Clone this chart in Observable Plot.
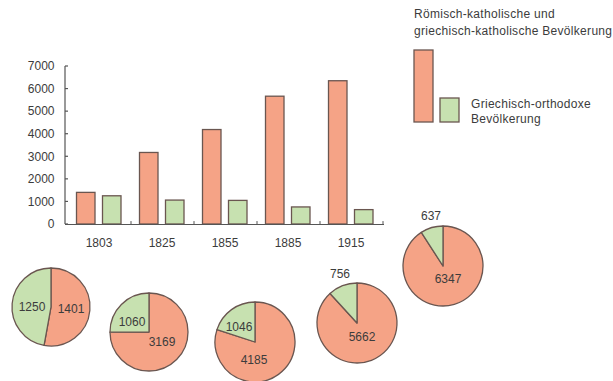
<!DOCTYPE html>
<html><head><meta charset="utf-8">
<script src="https://cdn.jsdelivr.net/npm/d3@7"></script>
<script src="https://cdn.jsdelivr.net/npm/@observablehq/plot@0.6"></script>
<style>
body{margin:0;background:#fff}
#chart{position:relative;width:613px;height:381px;font-family:"Liberation Sans",Arial,sans-serif}
</style>
</head><body><div id="chart"></div>
<script>
// ---- data ----
const years = ["1803", "1825", "1855", "1885", "1915"];
const catholic = [1401, 3169, 4185, 5662, 6347];
const orthodox = [1250, 1060, 1046, 756, 637];
const yTicks = [0, 1000, 2000, 3000, 4000, 5000, 6000, 7000];
const catholicLabel = ["Römisch-katholische und", "griechisch-katholische Bevölkerung"];
const orthodoxLabel = ["Griechisch-orthodoxe", "Bevölkerung"];

// ---- styles / layout ----
const C = {cath: "#f5a386", orth: "#c7e1b0", stroke: "#6a5650", text: "#3c3c3c", axis: "#555"};
const rows = years.map((year, i) => ({year, catholic: catholic[i], orthodox: orthodox[i]}));
const pieLayout = [
  {cx: 51,  cy: 307, r: 39, g: [-19, 0],   o: [20, 2]},
  {cx: 149, cy: 332, r: 39, g: [-17, -10], o: [13, 10]},
  {cx: 255, cy: 342, r: 40, g: [-16, -15], o: [-1, 18]},
  {cx: 357, cy: 323, r: 40, g: [-17, -49], o: [5, 14]},
  {cx: 443, cy: 266, r: 40, g: [-12, -50], o: [5, 13]}
];

function pies() {
  const g = d3.create("svg:g");
  const pie = d3.pie().sort(null).value(d => d);
  rows.forEach((row, i) => {
    const L = pieLayout[i];
    const arc = d3.arc().innerRadius(0).outerRadius(L.r);
    const arcs = pie([row.catholic, row.orthodox]);
    const gg = g.append("g").attr("transform", `translate(${L.cx},${L.cy})`);
    gg.selectAll("path").data(arcs).join("path")
      .attr("d", arc)
      .attr("fill", (d, j) => j ? C.orth : C.cath)
      .attr("stroke", C.stroke).attr("stroke-width", 1.3).attr("stroke-linejoin", "round");
    const lab = [[row.orthodox, L.g], [row.catholic, L.o]];
    lab.forEach(([v, p]) => {
      gg.append("text").attr("x", p[0]).attr("y", p[1]).attr("dy", "0.35em")
        .attr("text-anchor", "middle").attr("font-size", 12).attr("fill", C.text)
        .text(v);
    });
  });
  return g.node();
}

function yLine(index, scales, values, dims) {
  const g = d3.create("svg:g").attr("stroke", C.axis).attr("stroke-width", 1.2);
  const x0 = dims.marginLeft;
  g.append("line")
    .attr("x1", x0).attr("x2", x0)
    .attr("y1", dims.marginTop).attr("y2", dims.height - dims.marginBottom);
  g.selectAll("line.t").data(yTicks).join("line").attr("class", "t")
    .attr("x1", x0).attr("x2", x0 + 3)
    .attr("y1", d => scales.y(d)).attr("y2", d => scales.y(d));
  return g.node();
}

function legend() {
  const g = d3.create("svg:g").attr("font-size", 12).attr("letter-spacing", "0.3px").attr("fill", C.text).attr("text-anchor", "start");
  g.append("text").attr("x", 414).attr("y", 18).text(catholicLabel[0]);
  g.append("text").attr("x", 414).attr("y", 35).text(catholicLabel[1]);
  g.append("rect").attr("x", 414).attr("y", 50).attr("width", 19).attr("height", 72)
    .attr("fill", C.cath).attr("stroke", C.stroke).attr("stroke-width", 1.3);
  g.append("rect").attr("x", 440).attr("y", 98).attr("width", 19).attr("height", 24)
    .attr("fill", C.orth).attr("stroke", C.stroke).attr("stroke-width", 1.3);
  g.append("text").attr("x", 471).attr("y", 108).text(orthodoxLabel[0]);
  g.append("text").attr("x", 471).attr("y", 123).text(orthodoxLabel[1]);
  return g.node();
}

const chart = Plot.plot({
  width: 613,
  height: 381,
  marginLeft: 65,
  marginRight: 229,
  marginTop: 66,
  marginBottom: 157,
  style: {fontFamily: '"Liberation Sans", Arial, sans-serif', color: C.text, background: "#fff", overflow: "visible"},
  x: {type: "band", domain: years, padding: 0},
  y: {domain: [0, 7000]},
  marks: [
    Plot.barY(rows, {x: "year", y: "catholic", fill: C.cath, stroke: C.stroke, strokeWidth: 1.3, insetLeft: 9.5, insetRight: 35}),
    Plot.barY(rows, {x: "year", y: "orthodox", fill: C.orth, stroke: C.stroke, strokeWidth: 1.3, insetLeft: 35.5, insetRight: 9}),
    Plot.ruleY([0], {stroke: C.axis, strokeWidth: 1.2}),
    Plot.ruleX(years, {x: d => d, dx: 32, y1: 0, y2: 130, stroke: C.axis}),
    yLine,
    Plot.axisY({ticks: yTicks, tickSize: 0, tickPadding: 11, fontSize: 12, label: null, tickFormat: d => String(d)}),
    Plot.axisX({tickSize: 0, tickPadding: 14, fontSize: 12, label: null}),
    pies,
    legend
  ]
});
document.getElementById("chart").append(chart);
</script>
</body></html>
